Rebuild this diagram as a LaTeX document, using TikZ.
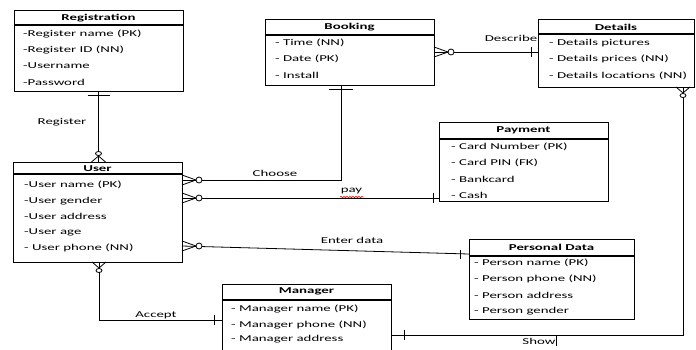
\documentclass[tikz,border=0pt]{standalone}
\usepackage{fontspec}
\setmainfont[FakeStretch=1.65]{Carlito}
\usetikzlibrary{decorations.pathmorphing}
\begin{document}
\begin{tikzpicture}[x=1pt,y=-1pt,font=\fontsize{9}{10}\selectfont]
\tikzset{
 ebox/.style={draw, line width=0.9pt, anchor=north west, inner sep=0pt, outer sep=0pt},
 etitle/.style={font=\fontsize{9}{10}\selectfont\bfseries, inner sep=0pt},
 erow/.style={anchor=west, inner sep=0pt},
 sepline/.style={line width=1.3pt},
 rel/.style={line width=0.8pt},
 lbl/.style={inner sep=0pt},
 crowR/.pic={\draw[rel] (0,-5) -- (14,0) -- (0,5); \draw[rel,fill=white] (17,0) circle (3);},
 crowU/.pic={\draw[rel] (-7,0) -- (0,-6) -- (7,0); \draw[rel,fill=white] (0,-8.5) ellipse (3 and 2);},
 crowD/.pic={\draw[rel] (-7,0) -- (0,6) -- (7,0); \draw[rel,fill=white] (0,8.5) ellipse (3 and 2);},
}
\clip (0,0) rectangle (696,349);
\fill[white] (0,0) rectangle (696,349);

% Registration
\node[ebox, minimum width=169pt, minimum height=81pt] (reg) at (14,10) {};
\node[etitle] (regT) at (98.5,18) {Registration};
\draw[sepline] (14,25) -- (183,25);
\node[erow] (reg1) at (23,34) {-Register name (PK)};
\node[erow] (reg2) at (23,50) {-Register ID (NN)};
\node[erow] (reg3) at (23,66) {-Username};
\node[erow] (reg4) at (23,82) {-Password};

% Booking
\node[ebox, minimum width=169pt, minimum height=66pt] (book) at (265,19) {};
\node[etitle] (bookT) at (349.5,27) {Booking};
\draw[sepline] (265,35) -- (434,35);
\node[erow] (book1) at (275,43) {- Time (NN)};
\node[erow] (book2) at (275,59) {- Date (PK)};
\node[erow] (book3) at (275,75) {- Install};

% Details
\node[ebox, minimum width=156pt, minimum height=68pt] (det) at (538,19) {};
\node[etitle] (detT) at (616,27) {Details};
\draw[sepline] (538,34) -- (694,34);
\node[erow] (det1) at (549,43) {- Details pictures};
\node[erow] (det2) at (549,59) {- Details prices (NN)};
\node[erow] (det3) at (549,76) {- Details locations (NN)};

% User
\node[ebox, minimum width=169pt, minimum height=100pt] (user) at (13,162) {};
\node[etitle] (userT) at (97.5,168.5) {User};
\draw[sepline] (13,174) -- (182,174);
\node[erow] (user1) at (24,185) {-User name (PK)};
\node[erow] (user2) at (24,201) {-User gender};
\node[erow] (user3) at (24,216) {-User address};
\node[erow] (user4) at (24,232) {-User age};
\node[erow] (user5) at (24,248) {- User phone (NN)};

% Payment
\node[ebox, minimum width=169pt, minimum height=79pt] (pay) at (439,122) {};
\node[etitle] (payT) at (523.5,130.5) {Payment};
\draw[sepline] (439,139) -- (608,139);
\node[erow] (pay1) at (451,147) {- Card Number (PK)};
\node[erow] (pay2) at (451,163) {- Card PIN (FK)};
\node[erow] (pay3) at (451,179) {- Bankcard};
\node[erow] (pay4) at (451,195) {- Cash};

% Personal Data
\node[ebox, minimum width=165pt, minimum height=80pt] (pers) at (469,239) {};
\node[etitle] (persT) at (551.5,247) {Personal Data};
\draw[sepline] (469,256) -- (634,256);
\node[erow] (pers1) at (474,263) {- Person name (PK)};
\node[erow] (pers2) at (474,279) {- Person phone (NN)};
\node[erow] (pers3) at (474,295) {- Person address};
\node[erow] (pers4) at (474,311) {- Person gender};

% Manager
\node[ebox, minimum width=169pt, minimum height=80pt] (mgr) at (222,284) {};
\node[etitle] (mgrT) at (306.5,291.5) {Manager};
\draw[sepline] (222,300) -- (391,300);
\node[erow] (mgr1) at (231,309) {- Manager name (PK)};
\node[erow] (mgr2) at (231,324.5) {- Manager phone (NN)};
\node[erow] (mgr3) at (231,339.5) {- Manager address};

% Register
\path (user.north) ++(1,0) coordinate (rgB);
\draw[rel] (rgB |- reg.south) -- (rgB);
\draw[rel] (rgB |- reg.south) ++(-11,4) -- ++(22,0);
\pic at (rgB) {crowU};
\node[lbl] (lRegister) at (62,122) {Register};

% Choose
\path (user.east) ++(0,-32) coordinate (chA);
\path (book.south) ++(-8.5,0) coordinate (chB);
\draw[rel] (chA) -| (chB);
\draw[rel] (chB) ++(-12,4) -- ++(24,0);
\pic at (chA) {crowR};
\node[lbl] (lChoose) at (275,173) {Choose};

% pay
\path (user.east) ++(0,-14) coordinate (pyA);
\draw[rel] (pyA) -- (pyA -| pay.west);
\draw[rel] (pyA -| pay.west) ++(-6,-5) -- ++(0,10);
\pic at (pyA) {crowR};
\node[lbl] (lPay) at (351.5,191.5) {pay};
\draw[red, line width=0.6pt, decorate, decoration={snake, amplitude=0.7pt, segment length=3pt}] (340,197) -- (363,197);

% Enter data
\path (user.east) ++(0,34) coordinate (edA);
\path (pers.west) ++(0,-25) coordinate (edB);
\draw[rel] (edA) -- (edB);
\draw[rel] (edB) ++(-9,-4.5) -- ++(0,9);
\pic at (edA) {crowR};
\node[lbl] (lEnter) at (352,240) {Enter data};

% Describe
\draw[rel] (book.east) -- (book.east -| det.west);
\draw[rel] (book.east -| det.west) ++(-7,-5) -- ++(0,10);
\pic at (book.east) {crowR};
\node[lbl] (lDescribe) at (511,38.5) {Describe};

% Accept
\path (user.south) ++(1.5,0) coordinate (acA);
\path (mgr.west) ++(0,-4) coordinate (acB);
\draw[rel] (acA) |- (acB);
\draw[rel] (acB) ++(-8,-5) -- ++(0,10);
\pic at (acA) {crowD};
\node[lbl] (lAccept) at (156,315) {Accept};

% Show
\path (mgr.east) ++(0,11) coordinate (shA);
\path (det.south) ++(67,0) coordinate (shB);
\draw[rel] (shA) -| (shB);
\draw[rel] (shA) ++(13,-5) -- ++(0,10);
\pic at (shB) {crowD};
\node[lbl] (lShow) at (539,341) {Show};
\draw[line width=0.9pt] (556,336) -- (556,346);
\end{tikzpicture}
\end{document}
